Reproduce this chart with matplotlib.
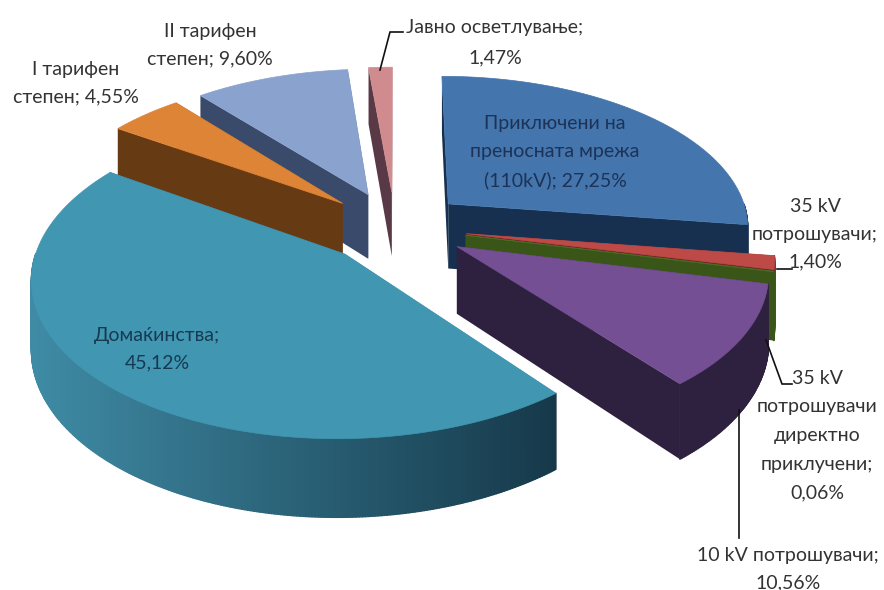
import numpy as np
import matplotlib
matplotlib.use('Agg')
import matplotlib.pyplot as plt
from matplotlib.collections import PolyCollection
from matplotlib.colors import to_rgb

plt.rcParams['font.family'] = ['Lato', 'Open Sans', 'DejaVu Sans']

# shares in percent, clockwise from 12 o'clock
names = ['transmission', 'kv35', 'kv35_direct', 'kv10', 'households', 'tariff1', 'tariff2', 'lighting']
shares = [27.25, 1.40, 0.06, 10.56, 45.12, 4.55, 9.60, 1.47]

label_texts = [
    'Приключени на\nпреносната мрежа\n(110kV); 27,25%',
    '35 kV\nпотрошувачи;\n1,40%',
    '35 kV\nпотрошувачи\nдиректно\nприклучени;\n0,06%',
    '10 kV потрошувачи;\n10,56%',
    'Домаќинства;\n45,12%',
    'I тарифен\nстепен; 4,55%',
    'II тарифен\nстепен; 9,60%',
    'Јавно осветлување;\n1,47%',
]

top_colors = ['#4475ad', '#bd4a47', '#4a6a22', '#744f93', '#4196b2', '#dd8436', '#8aa3ce', '#cf8b8d']
side_left = ['#17304f', '#6e2a28', '#3a5518', '#2e2140', '#3f8ba5', '#663a12', '#3a4a6a', '#5a3947']
side_right = ['#17304f', '#6e2a28', '#3a5518', '#2e2140', '#16394a', '#663a12', '#3a4a6a', '#5a3947']

# pie geometry in pixels
CX, CY = 395, 227
RADIUS = 302
EXPLODE = 72
TILT = 0.5
DEPTH = 66
FOCAL = 2200

# label centre (x, y of first line), line step, colour
label_layout = [
    (555, 123, 28.5, '#1c3357'),
    (815, 207, 27.5, '#333333'),
    (817, 378, 28.8, '#333333'),
    (788, 555, 28.0, '#333333'),
    (157, 335, 28.0, '#173a52'),
    (76, 70, 27.0, '#333333'),
    (210, 31, 28.0, '#333333'),
    (495, 27, 31.0, '#333333'),
]

leaders = [
    ([380, 390, 403], [70, 32, 32]),
    ([777, 792], [269, 269]),
    ([766, 782, 792], [340, 384, 384]),
    ([739, 739], [410, 538]),
]


def project(x, y, depth=0.0):
    s = 1.0 / (1.0 - np.asarray(y) / FOCAL)
    return CX + np.asarray(x) * s, CY + (TILT * np.asarray(y) + depth) * s


def polar(angle_deg, r):
    a = np.radians(angle_deg)
    return r * np.sin(a), -r * np.cos(a)


def draw_slice(ax, start, end, top, left, right):
    mid = (start + end) / 2
    ox, oy = polar(mid, EXPLODE)
    n = max(int((end - start) * 2), 2)
    angles = np.linspace(start, end, n + 1)
    px, py = polar(angles, RADIUS)
    px, py = px + ox, py + oy

    # radial faces first
    for i in (0, -1):
        xs, ys = project([ox, px[i]], [oy, py[i]])
        xb, yb = project([ox, px[i]], [oy, py[i]], DEPTH)
        face = np.column_stack([np.r_[xs, xb[::-1]], np.r_[ys, yb[::-1]]])
        ax.add_patch(plt.Polygon(face, closed=True, fc=left if i == 0 else right, ec='none'))

    # outer wall, shaded left to right, only the part facing the viewer
    xs, ys = project(px, py)
    xb, yb = project(px, py, DEPTH)
    strips, colors = [], []
    c0, c1 = np.array(to_rgb(left)), np.array(to_rgb(right))
    lo, hi = xs.min(), xs.max()
    for i in range(n):
        if not 90 <= angles[i] <= 270:
            continue
        strips.append([(xs[i], ys[i]), (xs[i + 1], ys[i + 1]), (xb[i + 1], yb[i + 1]), (xb[i], yb[i])])
        t = (xs[i] - lo) / max(hi - lo, 1)
        colors.append(c0 + (c1 - c0) * t)
    if strips:
        ax.add_collection(PolyCollection(strips, facecolors=colors, edgecolors=colors, linewidths=1.0))

    # top surface
    ax_, ay_ = project(ox, oy)
    surface = np.column_stack([np.r_[ax_, xs], np.r_[ay_, ys]])
    ax.add_patch(plt.Polygon(surface, closed=True, fc=top, ec=top, lw=0.5))


fig = plt.figure(figsize=(8.84, 5.90), dpi=100)
ax = fig.add_axes([0, 0, 1, 1])
ax.set_xlim(0, 884)
ax.set_ylim(590, 0)
ax.axis('off')

edges = np.r_[0, np.cumsum(shares)] * 3.6
# back to front
for i in [0, 7, 6, 5, 4, 1, 2, 3]:
    draw_slice(ax, edges[i], edges[i + 1], top_colors[i], side_left[i], side_right[i])

for xs, ys in leaders:
    ax.plot(xs, ys, color='#111111', lw=1.2, solid_joinstyle='miter')

for text, (x, y, step, color) in zip(label_texts, label_layout):
    for j, line in enumerate(text.split('\n')):
        ax.text(x, y + j * step, line, ha='center', va='center', fontsize=14, color=color)

fig.savefig('out.png', dpi=100)
plt.close(fig)
